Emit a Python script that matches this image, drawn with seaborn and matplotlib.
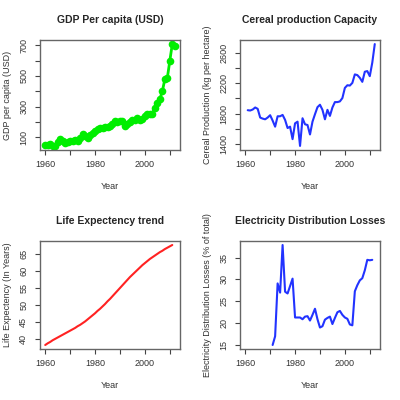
import numpy as np
import pandas as pd
import matplotlib
matplotlib.use("Agg")
import matplotlib.pyplot as plt
import seaborn as sns

years = list(range(1960, 2013))

gdp = [52, 52, 56, 47, 45, 69, 87, 78, 67, 69,
       78, 76, 85, 78, 96, 120, 107, 98, 113, 126,
       142, 157, 162, 162, 166, 170, 173, 186, 205, 203,
       205, 210, 177, 186, 200, 212, 214, 225, 216, 223,
       238, 254, 252, 254, 293, 322, 350, 399, 478, 485,
       597, 707, 693]

cereal_years = list(range(1961, 2013))
cereal = [1844, 1840, 1853, 1880, 1862, 1747, 1733, 1724, 1747,
          1778, 1707, 1627, 1764, 1764, 1782, 1716, 1609, 1627, 1462,
          1671, 1693, 1373, 1738, 1658, 1649, 1524, 1693, 1791, 1884,
          1916, 1849, 1724, 1849, 1769, 1880, 1951, 1951, 1960, 2004,
          2138, 2173, 2169, 2204, 2316, 2307, 2271, 2218, 2351, 2360,
          2293, 2471, 2716]

life_years = list(range(1960, 2012))
life = [38.3, 38.8, 39.2, 39.7, 40.1, 40.5, 40.9, 41.3, 41.7, 42.1,
        42.5, 42.9, 43.3, 43.8, 44.2, 44.7, 45.2, 45.8, 46.4, 47.0,
        47.6, 48.3, 48.9, 49.6, 50.3, 51.1, 51.8, 52.6, 53.4, 54.2,
        55.0, 55.8, 56.6, 57.4, 58.2, 58.9, 59.6, 60.3, 61.0, 61.7,
        62.3, 62.9, 63.5, 64.0, 64.5, 65.0, 65.5, 65.9, 66.4, 66.8,
        67.2, 67.6]

elec_years = list(range(1971, 2012))
elec = [15.0, 17.0, 29.1, 27.0, 37.9, 27.2, 26.8, 28.5, 30.2,
        21.3, 21.3, 21.3, 20.9, 21.5, 21.6, 20.6, 21.9, 23.3, 20.9,
        19.0, 19.3, 20.8, 21.2, 21.5, 19.8, 21.2, 22.5, 22.8, 21.9,
        21.3, 21.0, 19.7, 19.5, 27.3, 28.7, 29.8, 30.3, 32.1, 34.5,
        34.4, 34.5]

sns.set_style("white")
plt.rcParams['font.family'] = ['Liberation Sans', 'DejaVu Sans']

fig = plt.figure(figsize=(4, 4), dpi=100)
positions = [
    [0.10, 0.625, 0.35, 0.275],
    [0.60, 0.625, 0.35, 0.275],
    [0.10, 0.1275, 0.35, 0.27],
    [0.60, 0.1275, 0.35, 0.27],
]

panels = [
    ("GDP Per capita (USD)", "GDP per capita (USD)", years, gdp, "#00ee00",
     np.arange(100, 701, 100), [100, 300, 500, 700], True),
    ("Cereal production Capacity", "Cereal Production (kg per hectare)",
     cereal_years, cereal, "#2233ff",
     np.arange(1400, 2601, 200), [1400, 1800, 2200, 2600], False),
    ("Life Expectency trend", "Life Expectency (In Years)", life_years, life,
     "#ff2222", np.arange(40, 66, 5), list(range(40, 66, 5)), False),
    ("Electricity Distribution Losses", "Electricity Distribution Losses (% of total)",
     elec_years, elec, "#2233ff",
     np.arange(15, 36, 5), list(range(15, 36, 5)), False),
]

xticks = list(range(1960, 2011, 10))
xlabels = ["1960", "", "1980", "", "2000", ""]

for pos, (title, ylab, xs, ys, col, yt, ylabels_shown, markers) in zip(positions, panels):
    ax = fig.add_axes(pos)
    df = pd.DataFrame({"Year": xs, "Value": ys})
    if markers:
        sns.lineplot(data=df, x="Year", y="Value", ax=ax, color=col, lw=2,
                     marker="o", markersize=5.5, markeredgewidth=0)
    else:
        sns.lineplot(data=df, x="Year", y="Value", ax=ax, color=col, lw=1.5)
    ax.set_xlim(1957.9, 2014.1)
    lo, hi = min(ys), max(ys)
    pad = (hi - lo) * 0.04
    ax.set_ylim(lo - pad, hi + pad)
    ax.set_xticks(xticks)
    ax.set_xticklabels(xlabels)
    ax.set_yticks(yt)
    ax.set_yticklabels([str(v) if v in ylabels_shown else "" for v in yt],
                       rotation=90, va="center")
    ax.tick_params(axis="both", which="major", direction="out", length=3.5,
                   width=0.8, color="#444444", labelsize=6.5, labelcolor="#333333",
                   bottom=True, left=True)
    ax.tick_params(axis="x", pad=4)
    ax.tick_params(axis="y", pad=5)
    for s in ax.spines.values():
        s.set_color("#666666")
        s.set_linewidth(1)
    ax.set_title(title, fontsize=7.5, fontweight="bold", pad=12)
    ax.set_xlabel("Year", fontsize=6.5, color="#333333", labelpad=9)
    ax.set_ylabel(ylab, fontsize=6.5, color="#333333", labelpad=5)

fig.savefig("out.png", dpi=100)
